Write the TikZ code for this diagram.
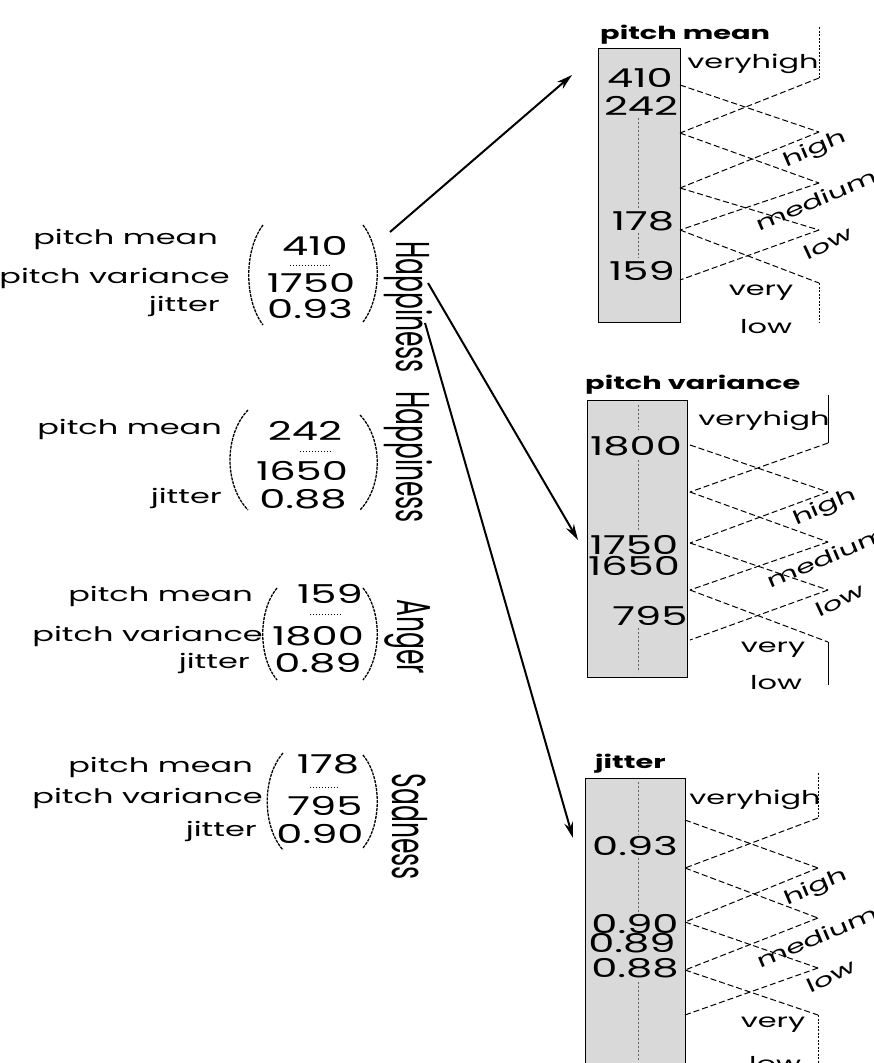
\documentclass[tikz,border=0pt]{standalone}
\usepackage{fontspec}
\usepackage{graphicx}
\setmainfont[FakeStretch=1.6]{Poppins}
\newfontfamily\plainf{Poppins}
\usetikzlibrary{arrows.meta}
\newcommand{\clsname}[1]{\scalebox{1}[1.9]{\plainf\fontsize{25}{25}\selectfont #1}}
\tikzset{
  lbl/.style={font=\fontsize{20}{20}\selectfont, inner sep=0pt, anchor=base east},
  val/.style={font=\fontsize{26}{26}\selectfont, inner sep=0pt, anchor=base},
  cls/.style={rotate=-90, inner sep=0pt},
  paren/.style={line width=1.3pt, dash pattern=on 3pt off 1pt},
  dotrow/.style={line width=1pt, dotted},
  ttl/.style={font=\bfseries\fontsize{18}{18}\selectfont, anchor=base west, inner sep=0pt},
  mf/.style={dash pattern=on 6pt off 3pt, line width=1pt},
  vl/.style={dash pattern=on 2pt off 1.5pt, line width=1pt},
  boxr/.style={draw, fill=gray!30, line width=1pt},
  inl/.style={dash pattern=on 2pt off 2pt, line width=0.8pt, black!60},
  fz/.style={font=\fontsize{19}{19}\selectfont, inner sep=0pt},
  arr/.style={line width=2pt, -{Stealth[length=16pt,width=9pt]}},
}
\begin{document}
\begin{tikzpicture}[x=1pt,y=-1pt]
\useasboundingbox (0,0) rectangle (874,1063);

% ---------- left vectors ----------
% vector 1
\node[lbl] (l1a) at (218,244) {pitch mean};
\node[lbl] (l1b) at (230,283) {pitch variance};
\node[lbl] (l1c) at (220,311) {jitter};
\node[val] (v1a) at (315,255) {410};
\node[val] (v1b) at (311,292) {1750};
\node[val] (v1c) at (310,318) {0.93};
\draw[paren] (263,225) .. controls (244,250) and (244,300) .. (263,325);
\draw[paren] (363,225) .. controls (382,250) and (382,297) .. (363,322);
\draw[dotrow] (290,265) -- (330,265);

% vector 2
\node[lbl] (l2a) at (222,434) {pitch mean};
\node[lbl] (l2c) at (222,503) {jitter};
\node[val] (v2a) at (305,440) {242};
\node[val] (v2b) at (302,480) {1650};
\node[val] (v2c) at (303,508) {0.88};
\draw[paren] (248,410) .. controls (224,435) and (224,485) .. (248,510);
\draw[paren] (360,415) .. controls (383,439) and (383,486) .. (360,510);
\draw[dotrow] (300,451) -- (333,451);

% vector 3
\node[lbl] (l3a) at (253,601) {pitch mean};
\node[lbl] (l3b) at (263,641) {pitch variance};
\node[lbl] (l3c) at (250,668) {jitter};
\node[val] (v3a) at (330,603) {159};
\node[val] (v3b) at (318,645) {1800};
\node[val] (v3c) at (318,672) {0.89};
\draw[paren] (277,588) .. controls (258,611) and (258,657) .. (277,680);
\draw[paren] (363,588) .. controls (382,611) and (382,657) .. (363,680);
\draw[dotrow] (310,614) -- (343,614);

% vector 4
\node[lbl] (l4a) at (253,772) {pitch mean};
\node[lbl] (l4b) at (263,803) {pitch variance};
\node[lbl] (l4c) at (257,836) {jitter};
\node[val] (v4a) at (328,773) {178};
\node[val] (v4b) at (325,815) {795};
\node[val] (v4c) at (320,843) {0.90};
\draw[paren] (283,753) .. controls (262,777) and (262,826) .. (283,850);
\draw[paren] (363,755) .. controls (382,778) and (382,825) .. (363,848);
\draw[dotrow] (310,787) -- (340,787);

% class names
\node[cls] (h1) at (408,307) {\clsname{Happiness}};
\node[cls] (h2) at (408,457) {\clsname{Happiness}};
\node[cls] (ang) at (408,637) {\clsname{Anger}};
\node[cls] (sad) at (410,827) {\clsname{Sadness}};

% ---------- box 1: pitch mean ----------
\node[ttl] (t1) at (600,39) {pitch mean};
\draw[boxr] (598,48) rectangle (680,322);
\draw[inl] (638,118) -- (638,208);
\draw[inl] (638,233) -- (638,258);
\node[val] (b1a) at (640,87) {410};
\node[val] (b1b) at (641,115) {242};
\node[val] (b1c) at (643,230) {178};
\node[val] (b1d) at (642,280) {159};
\draw[mf] (680,85) -- (819,132);
\draw[mf] (819,78) -- (680,133);
\draw[mf] (680,133) -- (819,183);
\draw[mf] (819,132) -- (680,188);
\draw[mf] (680,188) -- (819,230);
\draw[mf] (819,183) -- (680,230);
\draw[mf] (680,230) -- (819,283);
\draw[mf] (819,230) -- (680,280);
\draw[vl] (819,27) -- (819,78);
\draw[vl] (819,283) -- (819,322);
\node[fz, anchor=base] (f1a) at (753,68) {veryhigh};
\node[fz, rotate=23] (f1b) at (815,150) {high};
\node[fz, rotate=23] (f1c) at (816,200) {medium};
\node[fz, rotate=25] (f1d) at (828,243) {low};
\node[fz] (f1e) at (761,293) {very};
\node[fz] (f1f) at (766,327) {low};

% ---------- box 2: pitch variance ----------
\node[ttl] (t2) at (585,389) {pitch variance};
\draw[boxr] (587,400) rectangle (687,677);
\draw[inl] (638,405) -- (638,430);
\draw[inl] (638,460) -- (638,530);
\draw[inl] (638,628) -- (638,672);
\node[val] (b2a) at (636,455) {1800};
\node[val] (b2b) at (634,554) {1750};
\node[val] (b2c) at (634,575) {1650};
\node[val] (b2d) at (650,625) {795};
\draw[mf] (690,445) -- (828,492);
\draw[mf] (828,443) -- (690,492);
\draw[mf] (690,492) -- (828,542);
\draw[mf] (828,492) -- (690,543);
\draw[mf] (690,543) -- (828,590);
\draw[mf] (828,542) -- (690,590);
\draw[mf] (690,590) -- (828,642);
\draw[mf] (828,590) -- (690,640);
\draw[line width=1pt] (828,395) -- (828,443);
\draw[line width=1pt] (828,642) -- (828,685);
\node[fz] (f2a) at (764,421) {veryhigh};
\node[fz, rotate=23] (f2b) at (825,508) {high};
\node[fz, rotate=23] (f2c) at (827,557) {medium};
\node[fz, rotate=25] (f2d) at (840,600) {low};
\node[fz] (f2e) at (773,650) {very};
\node[fz] (f2f) at (776,683) {low};

% ---------- box 3: jitter ----------
\node[ttl] (t3) at (595,768) {jitter};
\draw[boxr] (585,778) rectangle (685,1075);
\draw[inl] (638,782) -- (638,835);
\draw[inl] (638,858) -- (638,912);
\draw[inl] (638,982) -- (638,1060);
\node[val] (b3a) at (635,855) {0.93};
\node[val] (b3b) at (635,933) {0.90};
\node[val] (b3c) at (632,952) {0.89};
\node[val] (b3d) at (635,977) {0.88};
\draw[mf] (685,820) -- (818,868);
\draw[mf] (818,818) -- (685,868);
\draw[mf] (685,868) -- (818,918);
\draw[mf] (818,868) -- (685,922);
\draw[mf] (685,922) -- (818,968);
\draw[mf] (818,918) -- (685,970);
\draw[mf] (685,970) -- (818,1015);
\draw[mf] (818,968) -- (685,1015);
\draw[vl] (818,773) -- (818,818);
\draw[vl] (818,1015) -- (818,1063);
\node[fz] (f3a) at (755,800) {veryhigh};
\node[fz, rotate=23] (f3b) at (816,888) {high};
\node[fz, rotate=23] (f3c) at (817,937) {medium};
\node[fz, rotate=25] (f3d) at (831,976) {low};
\node[fz] (f3e) at (773,1025) {very};
\node[fz] (f3f) at (775,1064) {low};

% ---------- arrows ----------
\coordinate (s1) at (390,232);
\coordinate (e1) at (572,75);
\coordinate (s2) at (428,283);
\coordinate (e2) at (578,540);
\coordinate (s3) at (425,323);
\coordinate (e3) at (573,838);
\draw[arr] (s1) -- (e1);
\draw[arr] (s2) -- (e2);
\draw[arr] (s3) -- (e3);
\end{tikzpicture}
\end{document}
